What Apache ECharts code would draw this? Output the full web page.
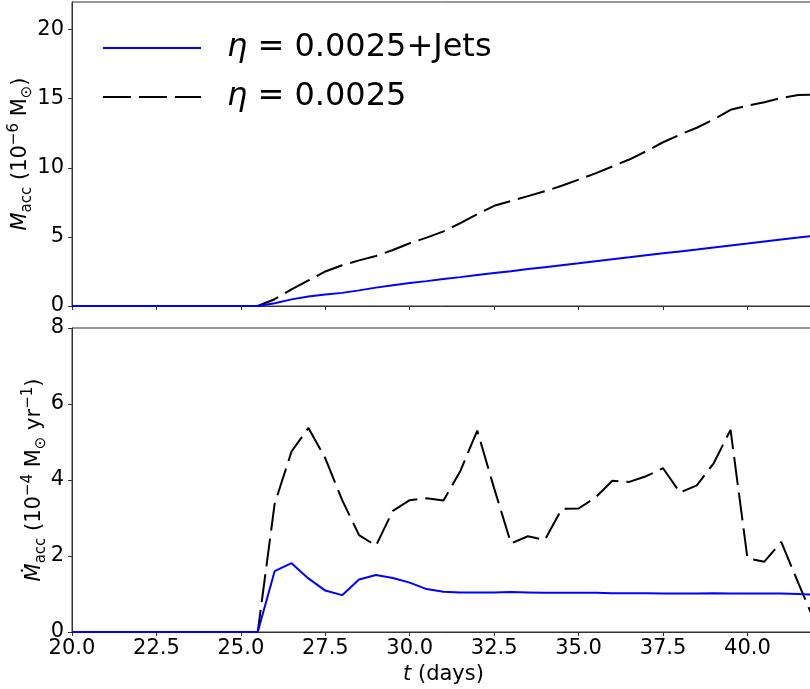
<!DOCTYPE html>
<html>
<head>
<meta charset="utf-8">
<script src="https://cdn.jsdelivr.net/npm/echarts@6/dist/echarts.min.js"></script>
<style>
  html, body { margin: 0; padding: 0; background: #fff; }
  #chart { width: 810px; height: 689px; }
</style>
</head>
<body>
<div id="chart"></div>
<script>
// time in days
const times = [20, 25.5, 26, 26.5, 27, 27.5, 28, 28.5, 29, 29.5, 30, 30.5, 31, 31.5, 32, 32.5, 33, 33.5,
  34, 34.5, 35, 35.5, 36, 36.5, 37, 37.5, 38, 38.5, 39, 39.5, 40, 40.5, 41, 41.5, 42]

// accreted mass, 1e-6 Msun
const massJets = [0, 0, 0.2, 0.48, 0.68, 0.83, 0.95, 1.13, 1.33, 1.5, 1.66, 1.8, 1.95, 2.09, 2.24, 2.38, 2.52, 2.67,
  2.81, 2.95, 3.09, 3.24, 3.38, 3.52, 3.67, 3.81, 3.95, 4.09, 4.24, 4.38, 4.52, 4.67, 4.81, 4.95, 5.1]
const massNoJets = [0, 0, 0.49, 1.2, 1.85, 2.5, 2.95, 3.3, 3.62, 4.05, 4.54, 4.95, 5.4, 6.0, 6.65, 7.25, 7.6, 7.95,
  8.3, 8.7, 9.15, 9.6, 10.1, 10.6, 11.2, 11.85, 12.4, 12.9, 13.5, 14.2, 14.5, 14.75, 15.05, 15.27, 15.3]

// accretion rate, 1e-4 Msun/yr
const rateJets = [0, 0, 1.6, 1.81, 1.41, 1.09, 0.97, 1.38, 1.5, 1.42, 1.3, 1.13, 1.06, 1.04, 1.04, 1.04, 1.05, 1.04,
  1.03, 1.03, 1.03, 1.03, 1.02, 1.02, 1.02, 1.01, 1.01, 1.01, 1.02, 1.01, 1.01, 1.01, 1.01, 1.0, 0.98]
const rateNoJets = [0, 0, 3.37, 4.75, 5.37, 4.57, 3.47, 2.55, 2.27, 3.19, 3.47, 3.52, 3.46, 4.24, 5.3, 3.78, 2.33, 2.52,
  2.42, 3.24, 3.25, 3.54, 3.98, 3.95, 4.1, 4.31, 3.67, 3.86, 4.44, 5.32, 1.94, 1.85, 2.37, 1.3, 0.25]

const nameJets = 'η = 0.0025+Jets'
const nameNoJets = 'η = 0.0025'

const font = 'DejaVu Sans'
const pair = (arr) => times.map((t, i) => [t, arr[i]])

const chart = echarts.init(document.getElementById('chart'), null, { renderer: 'canvas' })

const richName = {
  i: { fontStyle: 'italic', fontSize: 21, fontFamily: font, color: '#000' },
  sub: { fontSize: 15, fontFamily: font, color: '#000', verticalAlign: 'bottom', lineHeight: 28 },
  sup: { fontSize: 15, fontFamily: font, color: '#000', verticalAlign: 'top', lineHeight: 28 },
}

const xBase = {
  type: 'value',
  min: 20,
  max: 42,
  interval: 2.5,
  axisLine: { show: true, lineStyle: { color: '#333', width: 1 } },
  axisTick: { show: true, inside: false, length: 4, lineStyle: { color: '#333' } },
  splitLine: { show: false },
  nameMoveOverlap: false,
}

const yBase = {
  type: 'value',
  min: 0,
  axisLine: { show: true, lineStyle: { color: '#333', width: 1 } },
  axisTick: { show: true, inside: false, length: 4, lineStyle: { color: '#333' } },
  axisLabel: { color: '#000', fontSize: 21, fontFamily: font, margin: 8, showMaxLabel: false },
  splitLine: { show: false },
  nameLocation: 'middle',
  nameRotate: 90,
  nameMoveOverlap: false,
}

const option = {
  backgroundColor: '#fff',
  animation: false,
  grid: [
    { left: 72, top: 2, width: 743, height: 304, show: true, borderColor: '#333', borderWidth: 1, outerBoundsMode: 'none' },
    { left: 72, top: 328, width: 743, height: 304, show: true, borderColor: '#333', borderWidth: 1, outerBoundsMode: 'none' },
  ],
  legend: {
    data: [nameJets, nameNoJets],
    orient: 'vertical',
    left: 102,
    top: 32,
    padding: 0,
    itemWidth: 98,
    itemHeight: 14,
    itemGap: 17,
    selectedMode: false,
    itemStyle: { opacity: 0, borderWidth: 0 },
    textStyle: {
      fontSize: 32,
      fontFamily: font,
      color: '#000',
      lineHeight: 32,
      padding: [0, 0, 0, 21],
      rich: { i: { fontStyle: 'italic', fontSize: 32, fontFamily: font, color: '#000' } },
    },
    formatter: (n) => n.replace('η', '{i|η}'),
  },
  xAxis: [
    { ...xBase, gridIndex: 0, axisLabel: { show: false } },
    {
      ...xBase,
      gridIndex: 1,
      axisLabel: { color: '#000', fontSize: 21, fontFamily: font, margin: 6, showMaxLabel: false, formatter: (v) => v.toFixed(1) },
      name: '{i|t} (days)',
      nameLocation: 'middle',
      nameGap: 32,
      nameTextStyle: { fontSize: 21, fontFamily: font, color: '#000', rich: richName },
    },
  ],
  yAxis: [
    {
      ...yBase,
      gridIndex: 0,
      max: 22,
      interval: 5,
      name: '{i|M}{sub|acc} (10{sup|−6} M{sub|⊙})',
      nameGap: 37,
      nameTextStyle: { fontSize: 21, fontFamily: font, color: '#000', rich: richName },
    },
    {
      ...yBase,
      gridIndex: 1,
      max: 8,
      interval: 2,
      axisLabel: { ...yBase.axisLabel, showMaxLabel: true },
      name: '{i|Ṁ}{sub|acc} (10{sup|−4} M{sub|⊙} yr{sup|−1})',
      nameGap: 23,
      nameTextStyle: { fontSize: 21, fontFamily: font, color: '#000', rich: richName },
    },
  ],
  series: [
    {
      name: nameJets, type: 'line', xAxisIndex: 0, yAxisIndex: 0, data: pair(massJets),
      symbol: 'none', lineStyle: { color: '#0000ff', width: 2 }, itemStyle: { color: '#0000ff' }, z: 3,
    },
    {
      name: nameNoJets, type: 'line', xAxisIndex: 0, yAxisIndex: 0, data: pair(massNoJets),
      symbol: 'none', lineStyle: { color: '#000', width: 2, type: [28, 8] }, itemStyle: { color: '#000' }, z: 2,
    },
    {
      name: nameJets, type: 'line', xAxisIndex: 1, yAxisIndex: 1, data: pair(rateJets),
      symbol: 'none', lineStyle: { color: '#0000ff', width: 2 }, itemStyle: { color: '#0000ff' }, z: 3,
    },
    {
      name: nameNoJets, type: 'line', xAxisIndex: 1, yAxisIndex: 1, data: pair(rateNoJets),
      symbol: 'none', lineStyle: { color: '#000', width: 2, type: [28, 8] }, itemStyle: { color: '#000' }, z: 2,
    },
  ],
}

chart.setOption(option)
</script>
</body>
</html>
